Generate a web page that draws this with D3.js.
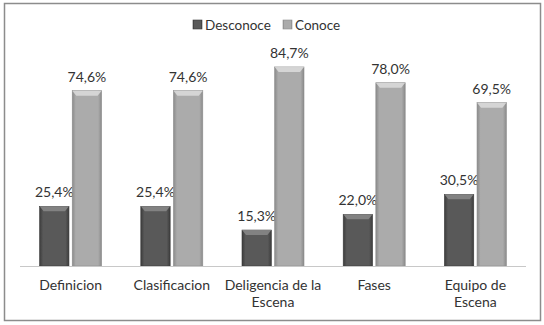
<!DOCTYPE html>
<html>
<head>
<meta charset="utf-8">
<script src="https://cdn.jsdelivr.net/npm/d3@7"></script>
<style>
  body { margin: 0; background: #fff; }
  text { font-family: Lato, "Open Sans", sans-serif; fill: #333; }
</style>
</head>
<body>
<svg id="canvas" width="544" height="325"></svg>
<script>
const categories = [["Definicion"], ["Clasificacion"], ["Deligencia de la", "Escena"], ["Fases"], ["Equipo de", "Escena"]];
const seriesNames = ["Desconoce", "Conoce"];
const desconoce = [25.4, 25.4, 15.3, 22.0, 30.5];
const conoce = [74.6, 74.6, 84.7, 78.0, 69.5];

const svg = d3.select("#canvas");

// frame
svg.append("rect")
  .attr("x", 4.5).attr("y", 3.5)
  .attr("width", 536).attr("height", 317)
  .attr("fill", "#fff")
  .attr("stroke", "#8c8c8c")
  .attr("stroke-width", 1.5);

const defs = svg.append("defs");
function makeGrad(id, edge, mid) {
  const g = defs.append("linearGradient").attr("id", id)
    .attr("x1", "0").attr("x2", "1").attr("y1", "0").attr("y2", "0");
  g.append("stop").attr("offset", "0").attr("stop-color", edge);
  g.append("stop").attr("offset", "0.12").attr("stop-color", mid);
  g.append("stop").attr("offset", "0.88").attr("stop-color", mid);
  g.append("stop").attr("offset", "1").attr("stop-color", edge);
}
makeGrad("gDark", "#3c3c3c", "#595959");
makeGrad("gLight", "#8a8a8a", "#ababab");

const x = d3.scaleBand()
  .domain(d3.range(categories.length))
  .range([20, 526]);

const sub = d3.scaleBand()
  .domain([0, 1])
  .range([x.bandwidth() / 2 - 31, x.bandwidth() / 2 + 31])
  .paddingInner(0.1);

const y = d3.scaleLinear().domain([0, 100]).range([266, 31]);

const series = [
  { name: seriesNames[0], values: desconoce, fill: "url(#gDark)", cap: "#8a8a8a" },
  { name: seriesNames[1], values: conoce, fill: "url(#gLight)", cap: "#dcdcdc" }
];

series.forEach((s, si) => {
  const g = svg.append("g");
  const bw = sub.bandwidth();
  const items = g.selectAll("g.bar").data(s.values).enter().append("g");
  items.append("rect")
    .attr("x", (d, i) => x(i) + sub(si))
    .attr("y", d => y(d))
    .attr("width", bw)
    .attr("height", d => y(0) - y(d))
    .attr("fill", s.fill)
    .attr("stroke", si === 0 ? "#3a3a3a" : "#8e8e8e")
    .attr("stroke-width", 0.6);
  // bevel cap
  items.append("path")
    .attr("d", (d, i) => {
      const x0 = x(i) + sub(si), x1 = x0 + bw, yt = y(d);
      return `M${x0},${yt} L${x1},${yt} L${x1 - 4},${yt + 5} L${x0 + 4},${yt + 5} Z`;
    })
    .attr("fill", s.cap)
    .attr("opacity", 0.85);
  items.append("text")
    .attr("x", (d, i) => x(i) + sub(si) + bw / 2)
    .attr("y", d => y(d) - 9)
    .attr("text-anchor", "middle")
    .attr("font-size", 14)
    .text(d => d.toFixed(1).replace(".", ",") + "%");
});

// baseline
svg.append("line")
  .attr("x1", 20).attr("x2", 526)
  .attr("y1", y(0) + 0.5).attr("y2", y(0) + 0.5)
  .attr("stroke", "#c8c8c8");

// category labels
const labels = svg.append("g").selectAll("text").data(categories).enter().append("text")
  .attr("x", (d, i) => x(i) + x.bandwidth() / 2)
  .attr("y", 290)
  .attr("text-anchor", "middle")
  .attr("font-size", 14);
labels.selectAll("tspan").data(d => d).enter().append("tspan")
  .attr("x", function () { return d3.select(this.parentNode).attr("x"); })
  .attr("dy", (d, i) => i === 0 ? 0 : 17)
  .text(d => d);

// legend
const legend = svg.append("g");
const legX = [193, 283];
series.forEach((s, si) => {
  legend.append("rect")
    .attr("x", legX[si]).attr("y", 20)
    .attr("width", 9).attr("height", 9)
    .attr("fill", s.fill)
    .attr("stroke", si === 0 ? "#3a3a3a" : "#8e8e8e")
    .attr("stroke-width", 0.6);
  legend.append("text")
    .attr("x", legX[si] + 12).attr("y", 30)
    .attr("font-size", 13.5)
    .text(s.name);
});
</script>
</body>
</html>
